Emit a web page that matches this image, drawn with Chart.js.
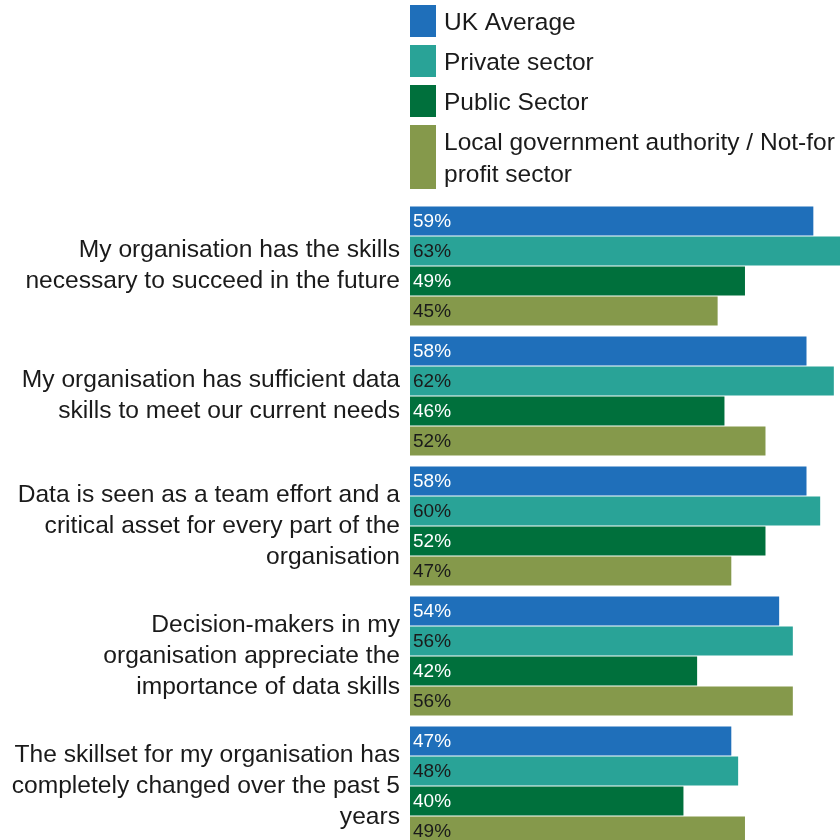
<!DOCTYPE html>
<html>
<head>
<meta charset="utf-8">
<script src="https://cdn.jsdelivr.net/npm/chart.js@4/dist/chart.umd.min.js"></script>
<style>
  html, body { margin: 0; padding: 0; background: #fff; overflow: hidden; }
  #wrap { position: relative; width: 840px; height: 860px; }
</style>
</head>
<body>
<div id="wrap"><canvas id="c" width="840" height="860"></canvas></div>
<script>
// Survey statements (multi-line labels)
const categories = [
  ["My organisation has the skills", "necessary to succeed in the future"],
  ["My organisation has sufficient data", "skills to meet our current needs"],
  ["Data is seen as a team effort and a", "critical asset for every part of the", "organisation"],
  ["Decision-makers in my", "organisation appreciate the", "importance of data skills"],
  ["The skillset for my organisation has", "completely changed over the past 5", "years"]
];

// Share agreeing (%) per sector
const ukAverage     = [59, 58, 58, 54, 47];
const privateSector = [63, 62, 60, 56, 48];
const publicSector  = [49, 46, 52, 42, 40];
const localGovNfp   = [45, 52, 47, 56, 49];

const seriesNames = [
  "UK Average",
  "Private sector",
  "Public Sector",
  ["Local government authority / Not-for", "profit sector"]
];
const seriesColors = ["#1f6fba", "#29a397", "#00703c", "#85994b"];
const labelColors  = ["#ffffff", "#1a1a1a", "#ffffff", "#1a1a1a"];

const FONT = "'Liberation Sans', Arial, sans-serif";

// Value labels drawn at the inner left edge of each bar
const valueLabels = {
  id: 'valueLabels',
  afterDatasetsDraw(chart) {
    const ctx = chart.ctx;
    ctx.save();
    ctx.font = "19px " + FONT;
    ctx.textBaseline = 'middle';
    ctx.textAlign = 'left';
    chart.data.datasets.forEach((ds, i) => {
      const meta = chart.getDatasetMeta(i);
      meta.data.forEach((bar, j) => {
        ctx.fillStyle = labelColors[i];
        ctx.fillText(ds.data[j] + '%', bar.base + 3, bar.y + 1);
      });
    });
    ctx.restore();
  }
};

// Vertical legend stacked above the bars
const stackedLegend = {
  id: 'stackedLegend',
  afterDraw(chart) {
    const ctx = chart.ctx;
    const left = chart.chartArea.left;
    const lineH = 32;
    let y = 5;
    ctx.save();
    ctx.font = "24.5px " + FONT;
    ctx.textBaseline = 'middle';
    ctx.textAlign = 'left';
    chart.data.datasets.forEach((ds, i) => {
      const lines = Array.isArray(ds.label) ? ds.label : [ds.label];
      const boxH = lines.length * lineH;
      ctx.fillStyle = ds.backgroundColor;
      ctx.fillRect(left, y, 26, boxH);
      ctx.fillStyle = '#1a1a1a';
      lines.forEach((t, k) => ctx.fillText(t, left + 34, y + lineH / 2 + k * lineH + 2));
      y += boxH + 8;
    });
    ctx.restore();
  }
};

const datasets = [ukAverage, privateSector, publicSector, localGovNfp].map((d, i) => ({
  label: seriesNames[i],
  data: d,
  backgroundColor: seriesColors[i],
  borderWidth: 0,
  categoryPercentage: 120 / 130,
  barPercentage: 29 / 30
}));

new Chart(document.getElementById('c'), {
  type: 'bar',
  data: { labels: categories, datasets },
  options: {
    indexAxis: 'y',
    responsive: false,
    animation: false,
    devicePixelRatio: 1,
    layout: { padding: { top: 201, bottom: 9, left: 0, right: 0 } },
    plugins: { legend: { display: false }, tooltip: { enabled: false } },
    scales: {
      x: {
        display: false,
        min: 0,
        max: 62.9
      },
      y: {
        grid: { display: false, drawTicks: false },
        border: { display: false },
        afterFit(scale) {
          scale.width = 410;
          scale.paddingTop = 0;
          scale.paddingBottom = 0;
        },
        ticks: {
          color: '#1a1a1a',
          padding: 10,
          font: { family: FONT, size: 24.6, lineHeight: 1.26 }
        }
      }
    }
  },
  plugins: [valueLabels, stackedLegend]
});
</script>
</body>
</html>
